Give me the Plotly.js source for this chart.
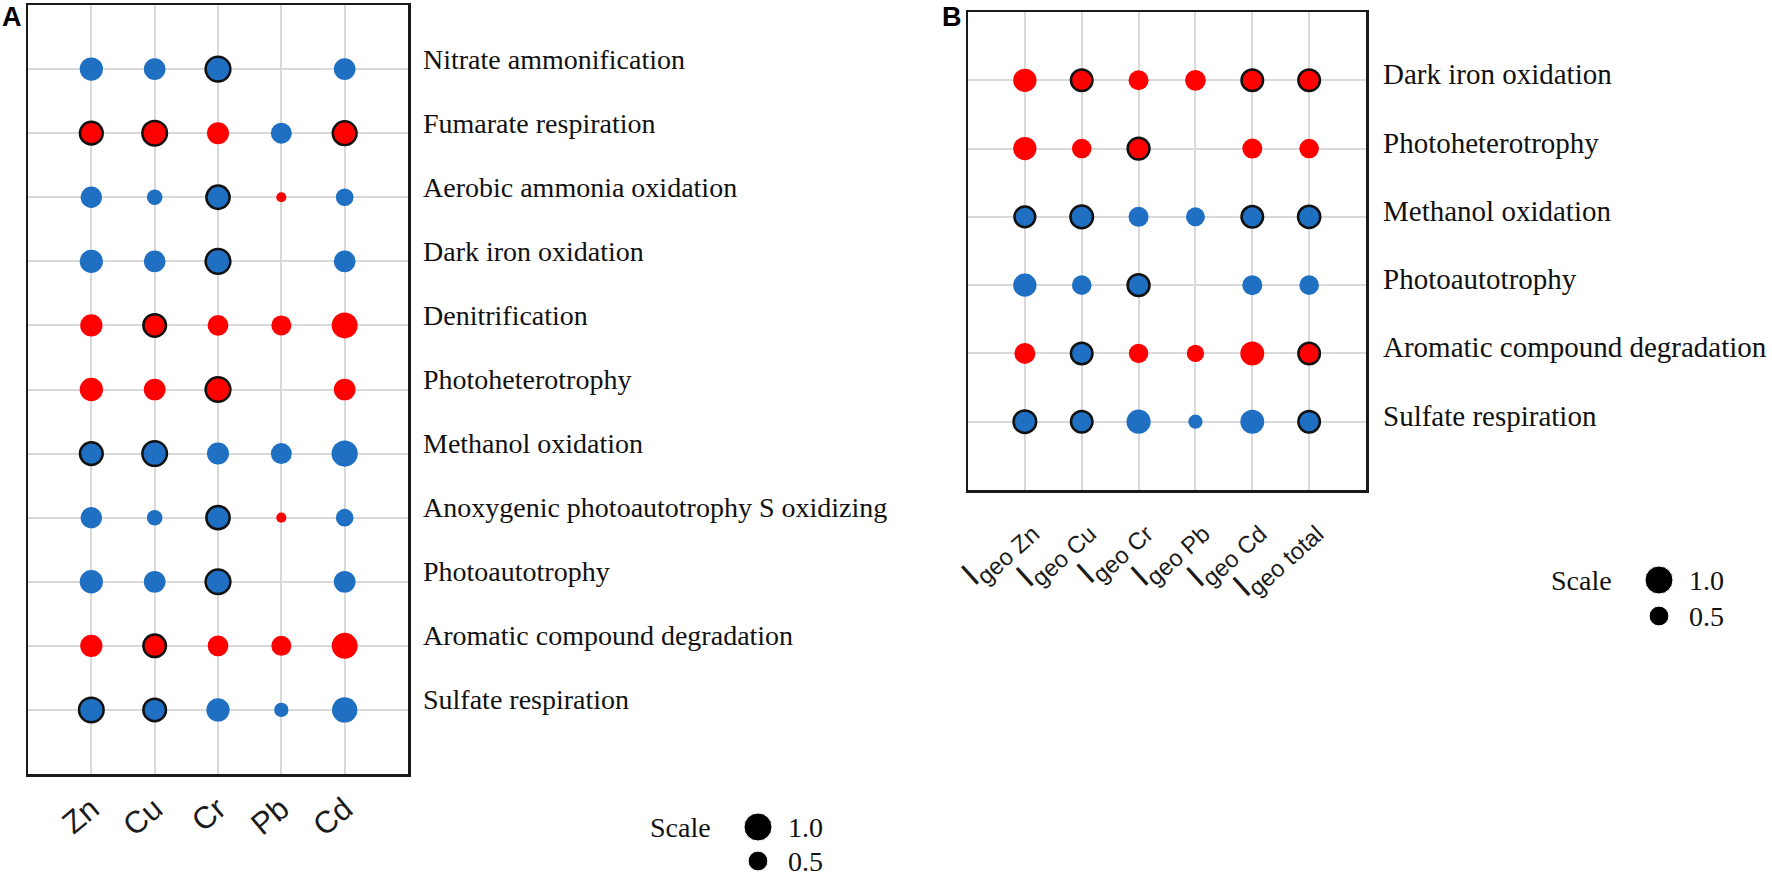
<!DOCTYPE html>
<html>
<head>
<meta charset="utf-8">
<script src="https://cdn.plot.ly/plotly-3.0.1.min.js"></script>
<style>html,body{margin:0;padding:0;background:#fff;}#chart{width:1772px;height:878px;}</style>
</head>
<body>
<div id="chart"></div>
<script>
// ---------- Panel A data ----------
const rowsA = ["Nitrate ammonification","Fumarate respiration","Aerobic ammonia oxidation","Dark iron oxidation","Denitrification","Photoheterotrophy","Methanol oxidation","Anoxygenic photoautotrophy S oxidizing","Photoautotrophy","Aromatic compound degradation","Sulfate respiration"];
const metalsA = ["Zn","Cu","Cr","Pb","Cd"];
const A_Zn = [-0.69, 0.66, -0.58, -0.69, 0.63, 0.69, -0.66, -0.58, -0.69, 0.63, -0.77];
const A_Cu = [-0.60, 0.77, -0.31, -0.60, 0.65, 0.60, -0.77, -0.31, -0.60, 0.65, -0.65];
const A_Cr = [-0.78, 0.62, -0.69, -0.78, 0.55, 0.78, -0.62, -0.69, -0.78, 0.55, -0.69];
const A_Pb = [null, -0.56, 0.13, null, 0.51, null, -0.56, 0.13, null, 0.51, -0.26];
const A_Cd = [-0.60, 0.72, -0.40, -0.60, 0.86, 0.60, -0.88, -0.40, -0.60, 0.86, -0.82];
const sigA_Zn = [0,1,0,0,0,0,1,0,0,0,1];
const sigA_Cu = [0,1,0,0,1,0,1,0,0,1,1];
const sigA_Cr = [1,0,1,1,0,1,0,1,1,0,0];
const sigA_Pb = [0,0,0,0,0,0,0,0,0,0,0];
const sigA_Cd = [0,1,0,0,0,0,0,0,0,0,0];

// ---------- Panel B data ----------
const rowsB = ["Dark iron oxidation","Photoheterotrophy","Methanol oxidation","Photoautotrophy","Aromatic compound degradation","Sulfate respiration"];
const colsB = ["Igeo Zn","Igeo Cu","Igeo Cr","Igeo Pb","Igeo Cd","Igeo total"];
const colLabelsB = ["I<sub>geo Zn</sub>","I<sub>geo Cu</sub>","I<sub>geo Cr</sub>","I<sub>geo Pb</sub>","I<sub>geo Cd</sub>","I<sub>geo total</sub>"];
const B_Zn = [0.69, 0.69, -0.55, -0.69, 0.56, -0.65];
const B_Cu = [0.59, 0.49, -0.65, -0.49, -0.59, -0.59];
const B_Cr = [0.51, 0.61, -0.51, -0.61, 0.48, -0.75];
const B_Pb = [0.55, null, -0.46, null, 0.38, -0.26];
const B_Cd = [0.59, 0.51, -0.59, -0.51, 0.73, -0.73];
const B_total = [0.59, 0.49, -0.63, -0.49, 0.59, -0.59];
const sigB_Zn = [0,0,1,0,0,1];
const sigB_Cu = [1,0,1,0,1,1];
const sigB_Cr = [0,1,0,1,0,0];
const sigB_Pb = [0,0,0,0,0,0];
const sigB_Cd = [1,0,1,0,0,0];
const sigB_total = [1,0,1,0,1,1];

// ---------- size legend ----------
const scaleValues = [1.0, 0.5];
const scaleLabels = ["1.0", "0.5"];

// ---------- styling ----------
const BLUE = '#1f6fc2', RED = '#ff0000', EDGE = '#111111';
const MAXD = 28;
function dia(v){ return MAXD * Math.sqrt(Math.abs(v)); }
const SERIF = 'Liberation Serif, Times New Roman, serif';
const SANS = 'Liberation Sans, Arial, sans-serif';

function panelTraces(cols, rows, vals, sigs, xa, ya){
  return cols.map((c, j) => {
    const xs=[], ys=[], sz=[], clr=[], lw=[];
    rows.forEach((r, i) => {
      const v = vals[j][i];
      if (v === null) return;
      xs.push(c); ys.push(r); sz.push(dia(v));
      clr.push(v > 0 ? RED : BLUE);
      lw.push(sigs[j][i] ? 2.5 : 0);
    });
    return {type:'scatter', mode:'markers', x:xs, y:ys, xaxis:xa, yaxis:ya,
      marker:{size:sz, color:clr, opacity:1, line:{width:lw, color:EDGE}},
      showlegend:false, hoverinfo:'x+y'};
  });
}

const scaleIdx = scaleValues.map((v, i) => i);
const traces = [].concat(
  panelTraces(metalsA, rowsA, [A_Zn, A_Cu, A_Cr, A_Pb, A_Cd], [sigA_Zn, sigA_Cu, sigA_Cr, sigA_Pb, sigA_Cd], 'x', 'y'),
  panelTraces(colsB, rowsB, [B_Zn, B_Cu, B_Cr, B_Pb, B_Cd, B_total], [sigB_Zn, sigB_Cu, sigB_Cr, sigB_Pb, sigB_Cd, sigB_total], 'x2', 'y2'),
  [
    {type:'scatter', mode:'markers', x:scaleIdx.map(()=>0), y:scaleIdx, xaxis:'x3', yaxis:'y3',
     marker:{size:scaleValues.map(dia), color:'#000', opacity:1}, showlegend:false, hoverinfo:'skip'},
    {type:'scatter', mode:'markers', x:scaleIdx.map(()=>0), y:scaleIdx, xaxis:'x4', yaxis:'y4',
     marker:{size:scaleValues.map(dia), color:'#000', opacity:1}, showlegend:false, hoverinfo:'skip'}
  ]
);

const W = 1772, H = 878;
const boxAxis = {showgrid:true, gridcolor:'#d9d9d9', gridwidth:2, showline:true, mirror:true,
  linecolor:'#1a1a1a', linewidth:2.5, zeroline:false, ticks:'', fixedrange:true};

const annotations = [];
rowsA.forEach(r => annotations.push({xref:'x domain', yref:'y', x:1, y:r, xanchor:'left', yanchor:'middle',
  xshift:13, yshift:10, text:r, showarrow:false, font:{family:SERIF, size:28, color:'#111'}}));
rowsB.forEach(r => annotations.push({xref:'x2 domain', yref:'y2', x:1, y:r, xanchor:'left', yanchor:'middle',
  xshift:15, yshift:6, text:r, showarrow:false, font:{family:SERIF, size:29, color:'#111'}}));
// panel letters
annotations.push({xref:'paper', yref:'paper', x:0, y:1, xanchor:'left', yanchor:'top', text:'<b>A</b>',
  showarrow:false, font:{family:SANS, size:27, color:'#000'}});
annotations.push({xref:'paper', yref:'paper', x:940/W, y:1, xanchor:'left', yanchor:'top', text:'<b>B</b>',
  showarrow:false, font:{family:SANS, size:27, color:'#000'}});
// scale legends
[['x3','y3'],['x4','y4']].forEach(([xa, ya]) => {
  annotations.push({xref:xa, yref:ya, x:0, y:scaleIdx[0], xanchor:'right', yanchor:'middle', xshift:-45,
    text:'Scale', showarrow:false, font:{family:SERIF, size:28, color:'#111'}});
  scaleIdx.forEach(i => annotations.push({xref:xa, yref:ya, x:0, y:i, xanchor:'left', yanchor:'middle', xshift:28,
    text:scaleLabels[i], showarrow:false, font:{family:SERIF, size:28, color:'#111'}}));
});

const layout = {
  width:W, height:H, margin:{l:0, r:0, t:0, b:0}, paper_bgcolor:'#fff', plot_bgcolor:'#fff',
  showlegend:false,
  xaxis: Object.assign({}, boxAxis, {domain:[28/W, 408/W], anchor:'y', type:'category', categoryorder:'array',
    categoryarray:metalsA, range:[-1, metalsA.length], tickangle:-40, ticklabelstandoff:2,
    tickfont:{family:SANS, size:31, color:'#1a1a1a'}}),
  yaxis: Object.assign({}, boxAxis, {domain:[(H-774)/H, (H-5)/H], anchor:'x', type:'category', categoryorder:'array',
    categoryarray:rowsA, range:[rowsA.length, -1], showticklabels:false}),
  xaxis2: Object.assign({}, boxAxis, {domain:[968/W, 1366/W], anchor:'y2', type:'category', categoryorder:'array',
    categoryarray:colsB, range:[-1, colsB.length], tickvals:colsB, ticktext:colLabelsB, tickangle:-42, ticklabelstandoff:2,
    tickfont:{family:SANS, size:34, color:'#1a1a1a'}}),
  yaxis2: Object.assign({}, boxAxis, {domain:[(H-490)/H, (H-12)/H], anchor:'x2', type:'category', categoryorder:'array',
    categoryarray:rowsB, range:[rowsB.length, -1], showticklabels:false}),
  xaxis3: {domain:[738/W, 778/W], anchor:'y3', range:[-1, 1], visible:false, fixedrange:true},
  yaxis3: {domain:[0, 68/H], anchor:'x3', range:[1.5, -0.5], visible:false, fixedrange:true},
  xaxis4: {domain:[1639/W, 1679/W], anchor:'y4', range:[-1, 1], visible:false, fixedrange:true},
  yaxis4: {domain:[244/H, 316/H], anchor:'x4', range:[1.5, -0.5], visible:false, fixedrange:true},
  annotations: annotations
};

Plotly.newPlot('chart', traces, layout, {displayModeBar:false, staticPlot:true});
</script>
</body>
</html>
